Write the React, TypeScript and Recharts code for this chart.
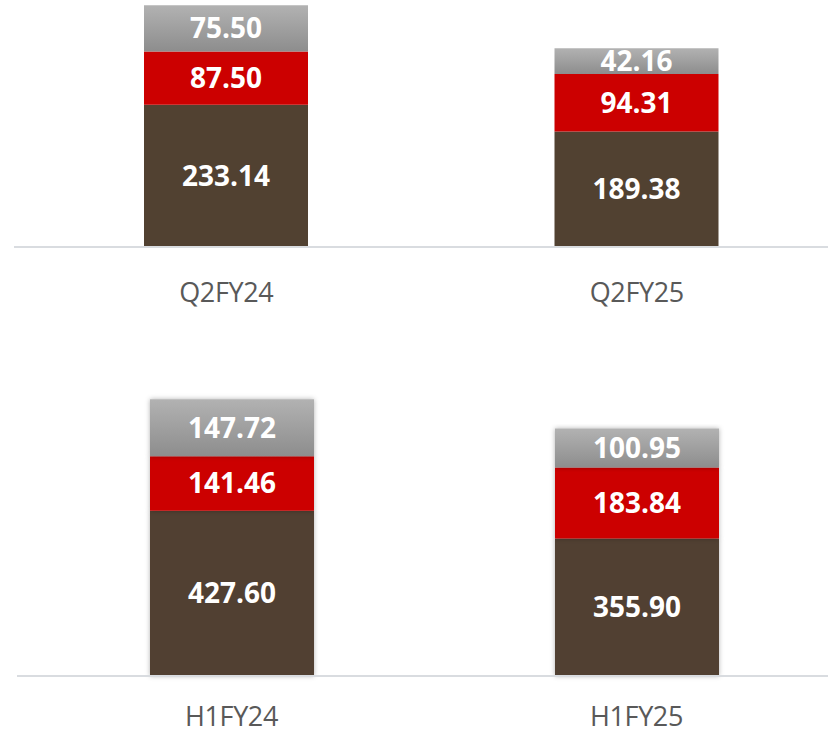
import { BarChart, Bar, XAxis, YAxis, LabelList } from "recharts";

// quarter comparison
const quarterCats = ["Q2FY24", "Q2FY25"];
const quarterBase = [233.14, 189.38];
const quarterMid = [87.5, 94.31];
const quarterTop = [75.5, 42.16];

// half-year comparison
const halfCats = ["H1FY24", "H1FY25"];
const halfBase = [427.6, 355.9];
const halfMid = [141.46, 183.84];
const halfTop = [147.72, 100.95];

const BROWN = "#514131";
const RED = "#cc0000";

const buildRows = (cats: string[], base: number[], mid: number[], top: number[]) =>
  cats.map((c, i) => ({ name: c, base: base[i], mid: mid[i], top: top[i] }));

const fmt = (v: unknown) => Number(v).toFixed(2);

const labelStyle = {
  fill: "#ffffff",
  fontSize: 28,
  fontWeight: 700,
  fontFamily: "Open Sans",
};

function Tick(props: any) {
  const { x, y, payload, offset } = props;
  return (
    <text
      x={x}
      y={y + offset}
      textAnchor="middle"
      fill="#595959"
      fontSize={27}
      letterSpacing={-0.4}
      fontFamily="Open Sans"
    >
      {payload.value}
    </text>
  );
}

function StackChart({
  rows, max, width, height, top, left, right, axisH, padLeft, tickOffset, shadow, id,
}: {
  rows: { name: string; base: number; mid: number; top: number }[];
  max: number;
  width: number;
  height: number;
  top: number;
  left: number;
  right: number;
  axisH: number;
  padLeft: number;
  tickOffset: number;
  shadow: boolean;
  id: string;
}) {
  const filter = shadow ? `url(#${id}-shadow)` : undefined;
  return (
    <BarChart
      width={width}
      height={height}
      data={rows}
      margin={{ top, right, bottom: 0, left }}
      barSize={164}
    >
      <defs>
        <linearGradient id={`${id}-grey`} x1="0" y1="0" x2="0" y2="1">
          <stop offset="0%" stopColor="#b2b2b2" />
          <stop offset="100%" stopColor="#8d8d8d" />
        </linearGradient>
        <filter id={`${id}-shadow`} x="-10%" y="-10%" width="120%" height="120%">
          <feDropShadow dx="0" dy="0" stdDeviation="2.5" floodColor="#000" floodOpacity="0.3" />
        </filter>
      </defs>
      <XAxis
        dataKey="name"
        axisLine={{ stroke: "#d9dce0", strokeWidth: 2 }}
        tickLine={false}
        padding={{ left: padLeft, right: 0 }}
        height={axisH}
        tick={<Tick offset={tickOffset} />}
        interval={0}
      />
      <YAxis hide domain={[0, max]} type="number" />
      <Bar dataKey="base" stackId="s" fill={BROWN} filter={filter} isAnimationActive={false}>
        <LabelList dataKey="base" position="center" formatter={fmt} style={labelStyle} />
      </Bar>
      <Bar dataKey="mid" stackId="s" fill={RED} filter={filter} isAnimationActive={false}>
        <LabelList dataKey="mid" position="center" formatter={fmt} style={labelStyle} />
      </Bar>
      <Bar dataKey="top" stackId="s" fill={`url(#${id}-grey)`} filter={filter} isAnimationActive={false}>
        <LabelList dataKey="top" position="center" formatter={fmt} style={labelStyle} />
      </Bar>
    </BarChart>
  );
}

export default function App() {
  return (
    <div
      style={{
        position: "absolute",
        top: 0,
        left: 0,
        width: 828,
        height: 733,
        overflow: "hidden",
        background: "#ffffff",
      }}
    >
      <div style={{ position: "absolute", top: 0, left: 0 }}>
        <StackChart
          id="q"
          rows={buildRows(quarterCats, quarterBase, quarterMid, quarterTop)}
          max={400}
          width={850}
          height={330}
          top={3}
          left={14}
          right={8}
          axisH={83}
          padLeft={7}
          tickOffset={47}
          shadow={false}
        />
      </div>
      <div style={{ position: "absolute", top: 340, left: 0 }}>
        <StackChart
          id="h"
          rows={buildRows(halfCats, halfBase, halfMid, halfTop)}
          max={800}
          width={845}
          height={393}
          top={27}
          left={17}
          right={6}
          axisH={57}
          padLeft={12}
          tickOffset={42}
          shadow={true}
        />
      </div>
    </div>
  );
}
